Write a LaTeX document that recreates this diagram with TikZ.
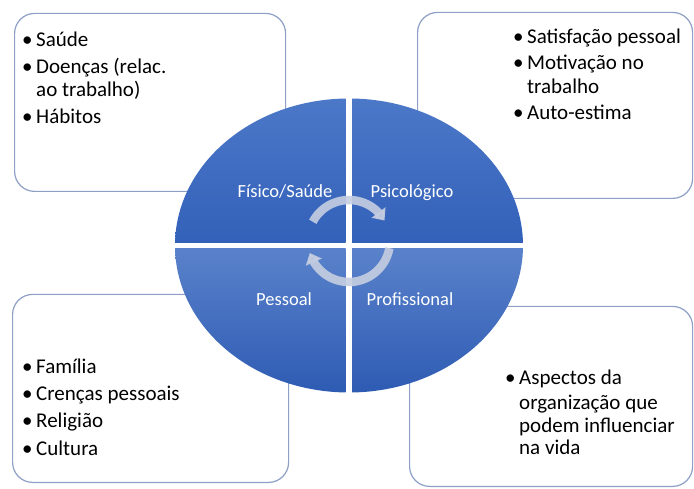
\documentclass[tikz,border=0pt]{standalone}
\usepackage{fontspec}
\setmainfont{Carlito}
\usetikzlibrary{arrows.meta, bending, positioning, calc}
\definecolor{uppertop}{HTML}{4C78C8}
\definecolor{upperbot}{HTML}{3361B9}
\definecolor{lowertop}{HTML}{5A82CB}
\definecolor{lowerbot}{HTML}{2E5BB3}
\definecolor{boxline}{HTML}{8EA0C6}
\definecolor{cyclegray}{HTML}{C6CEE1}
\newcommand{\bul}{\llap{\textbullet\hspace{3.5pt}}}
\tikzset{
  infobox/.style={
    rectangle, draw=boxline, line width=1.2pt, rounded corners=20pt,
    fill=white, anchor=south west, inner sep=0pt
  },
  item/.style={
    anchor=base west, inner sep=0pt, font=\fontsize{21}{25}\selectfont
  },
  quadrant/.style={
    top color=#1top, bottom color=#1bot
  },
  quadlabel/.style={
    anchor=base, inner sep=0pt, text=white, font=\fontsize{18.5}{22}\selectfont
  },
  cyclearrow/.style={
    -{Triangle[width=17pt,length=10pt]}, line width=8.5pt,
    color=cyclegray, opacity=0.9
  }
}

\begin{document}
\begin{tikzpicture}[x=1pt, y=1pt]

  \fill[white] (0,0) rectangle (694,488);

  % Side boxes
  \node[infobox, minimum width=271pt, minimum height=178pt] (fisbox) at (14,296) {};
  \node[infobox, minimum width=275pt, minimum height=186pt] (psibox) at (417,289) {};
  \node[infobox, minimum width=276pt, minimum height=188pt] (pesbox) at (12,5) {};
  \node[infobox, minimum width=283pt, minimum height=180pt] (probox) at (409,1) {};

  % Box contents
  \foreach \yy/\txt [count=\i] in {441/{\bul Saúde}, 414/{\bul Doenças (relac.},
      391/{ao trabalho)}, 364/{\bul Hábitos}}
    \node[item] (fis\i) at (36,\yy) {\txt};
  \foreach \yy/\txt [count=\i] in {444/{\bul Satisfação pessoal}, 418/{\bul Motivação no},
      394/{trabalho}, 368/{\bul Auto-estima}}
    \node[item] (psi\i) at (527,\yy) {\txt};
  \foreach \yy/\txt [count=\i] in {114/{\bul Família}, 88/{\bul Crenças pessoais},
      61/{\bul Religião}, 33/{\bul Cultura}}
    \node[item] (pes\i) at (36,\yy) {\txt};
  \foreach \yy/\txt [count=\i] in {103/{\bul Aspectos da}, 79/{organização que},
      56/{podem influenciar}, 34/{na vida}}
    \node[item] (pro\i) at (519,\yy) {\txt};

  % Split ellipse
  \coordinate (ctr) at (349,242.5);
  \begin{scope}
    \clip (ctr) ellipse [x radius=174, y radius=147];
    \shade[quadrant=upper] (170,245.5) rectangle (345.5,390);
    \shade[quadrant=upper] (352,245.5) rectangle (530,390);
    \shade[quadrant=lower] (170,95) rectangle (345.5,239.5);
    \shade[quadrant=lower] (352,95) rectangle (530,239.5);
  \end{scope}

  \node[quadlabel] (fis) at (285,290) {Físico/Saúde};
  \node[quadlabel] (psi) at (412,290) {Psicológico};
  \node[quadlabel] (pes) at (284,182) {Pessoal};
  \node[quadlabel] (pro) at (410,182) {Profissional};

  % Cycle arrows
  \coordinate (hub) at (349,247);
  \draw[cyclearrow] ([shift={(152:41)}]hub) arc[start angle=152, end angle=30, radius=41];
  \draw[cyclearrow] ([shift={(-10:41)}]hub) arc[start angle=-10, end angle=-163, radius=41];

\end{tikzpicture}
\end{document}
